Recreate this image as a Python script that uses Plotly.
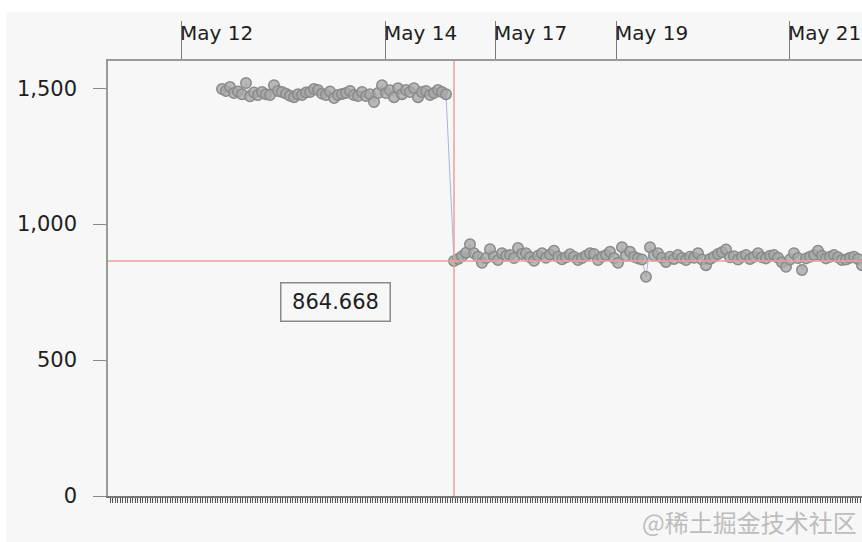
import plotly.graph_objects as go

# Sample index -> reading, two regimes separated by a step change
seg1_start = 28
seg1_values = [
    1497, 1490, 1504, 1482, 1488, 1478, 1519, 1470, 1484, 1475,
    1486, 1478, 1475, 1511, 1490, 1486, 1480, 1472, 1467, 1478,
    1475, 1484, 1486, 1497, 1493, 1480, 1475, 1488, 1464, 1475,
    1479, 1482, 1490, 1475, 1471, 1486, 1471, 1478, 1449, 1482,
    1511, 1482, 1492, 1467, 1500, 1478, 1493, 1486, 1500, 1467,
    1486, 1490, 1475, 1482, 1493, 1486, 1478,
]
seg2_start = 86
seg2_values = [
    864.668, 872, 882, 895, 926, 893, 880, 858, 875, 908,
    880, 868, 893, 884, 886, 875, 912, 890, 893, 878,
    865, 884, 893, 876, 888, 902, 880, 871, 878, 889,
    880, 868, 875, 884, 893, 890, 868, 880, 886, 898,
    875, 858, 915, 884, 898, 880, 874, 870, 806, 915,
    885, 893, 876, 861, 880, 872, 886, 875, 868, 880,
    876, 893, 870, 849, 872, 880, 890, 897, 907, 878,
    882, 870, 880, 886, 872, 880, 893, 878, 874, 884,
    886, 876, 860, 843, 870, 893, 875, 831, 874, 880,
    886, 902, 884, 874, 880, 886, 878, 868, 870, 876,
    880, 872, 849,
]

# Date labels shown along the top axis, placed at sample positions
tick_pos = [17.75, 68.75, 96.25, 126.5, 169.75]
tick_text = ["May 12", "May 14", "May 17", "May 19", "May 21"]

y_ticks = [0, 500, 1000, 1500]
x_range = [-0.5, 188]
y_range = [0, 1600]

# Highlighted sample (crosshair)
sel_index = seg2_start
sel_value = seg2_values[0]

xs = list(range(seg1_start, seg1_start + len(seg1_values))) + \
     list(range(seg2_start, seg2_start + len(seg2_values)))
ys = seg1_values + seg2_values

FONT = "DejaVu Sans"
AXIS = "#9a9a9a"

fig = go.Figure()
fig.add_trace(go.Scatter(
    x=xs, y=ys, mode="lines+markers",
    line=dict(color="#b3aee0", width=1),
    marker=dict(size=10.5, color="rgba(168,168,168,0.8)",
                line=dict(color="#8a8a8a", width=1.5)),
    hoverinfo="skip", showlegend=False,
))
# carrier trace for the dense bottom tick axis
fig.add_trace(go.Scatter(x=[0], y=[None], xaxis="x2", mode="markers",
                         showlegend=False, hoverinfo="skip"))

shapes = [
    # white strips framing the grey canvas
    dict(type="rect", xref="paper", yref="paper", x0=-0.2, x1=1.01,
         y0=1.1126, y1=1.2, fillcolor="white", line=dict(width=0), layer="below"),
    dict(type="rect", xref="paper", yref="paper", x0=-0.2, x1=-0.1353,
         y0=-0.2, y1=1.2, fillcolor="white", line=dict(width=0), layer="below"),
    # crosshair
    dict(type="line", xref="x", yref="paper", x0=sel_index, x1=sel_index,
         y0=0, y1=1, line=dict(color="#e6a49e", width=1.5)),
    dict(type="line", xref="paper", yref="y", x0=0, x1=1,
         y0=sel_value, y1=sel_value, line=dict(color="#e6a49e", width=1.5)),
]

annotations = [
    dict(x=p, xref="x", y=1, yref="paper", text=t, showarrow=False,
         xanchor="left", yanchor="middle", yshift=28, xshift=-3,
         font=dict(family=FONT, size=20, color="#1e1e1e"))
    for p, t in zip(tick_pos, tick_text)
]
annotations.append(dict(
    x=56.25, xref="x", y=713, yref="y", text=f"{sel_value:.3f}",
    showarrow=False, xanchor="center", yanchor="middle",
    width=96, height=25, borderpad=6, bordercolor="#8a8a8a", borderwidth=1.5,
    font=dict(family=FONT, size=21, color="#1e1e1e"),
))
annotations.append(dict(
    x=1, xref="paper", y=-0.058, yref="paper", text="@稀土掘金技术社区",
    showarrow=False, xanchor="right", yanchor="middle", xshift=-3,
    font=dict(family="Noto Sans CJK SC", size=24, color="#bdbdbd"),
))

fig.update_layout(
    width=862, height=542,
    margin=dict(l=108, r=0, t=61, b=46),
    paper_bgcolor="#f7f7f7", plot_bgcolor="#f7f7f7",
    font=dict(family=FONT, size=21, color="#1e1e1e"),
    xaxis=dict(
        side="top", range=x_range, tickmode="array", tickvals=tick_pos,
        showticklabels=False, ticks="outside", ticklen=38, tickwidth=1,
        tickcolor="#7a7a7a", showline=True, linecolor=AXIS, linewidth=1.5,
        showgrid=False, zeroline=False, fixedrange=True,
    ),
    xaxis2=dict(
        overlaying="x", side="bottom", anchor="y", range=x_range,
        tickmode="linear", tick0=0, dtick=0.625, ticks="outside", ticklen=5,
        tickwidth=1, tickcolor="#555555", showticklabels=False,
        showline=True, linecolor="#777777", linewidth=2,
        showgrid=False, zeroline=False,
    ),
    yaxis=dict(
        range=y_range, tickmode="array", tickvals=y_ticks, tickformat=",",
        ticks="outside", ticklen=13, tickwidth=1, tickcolor="#8a8a8a",
        ticklabelstandoff=12, showline=True, linecolor=AXIS, linewidth=1.5,
        showgrid=False, zeroline=False,
        tickfont=dict(family=FONT, size=21, color="#1e1e1e"),
    ),
    shapes=shapes, annotations=annotations,
)

fig.write_html("out.html")
